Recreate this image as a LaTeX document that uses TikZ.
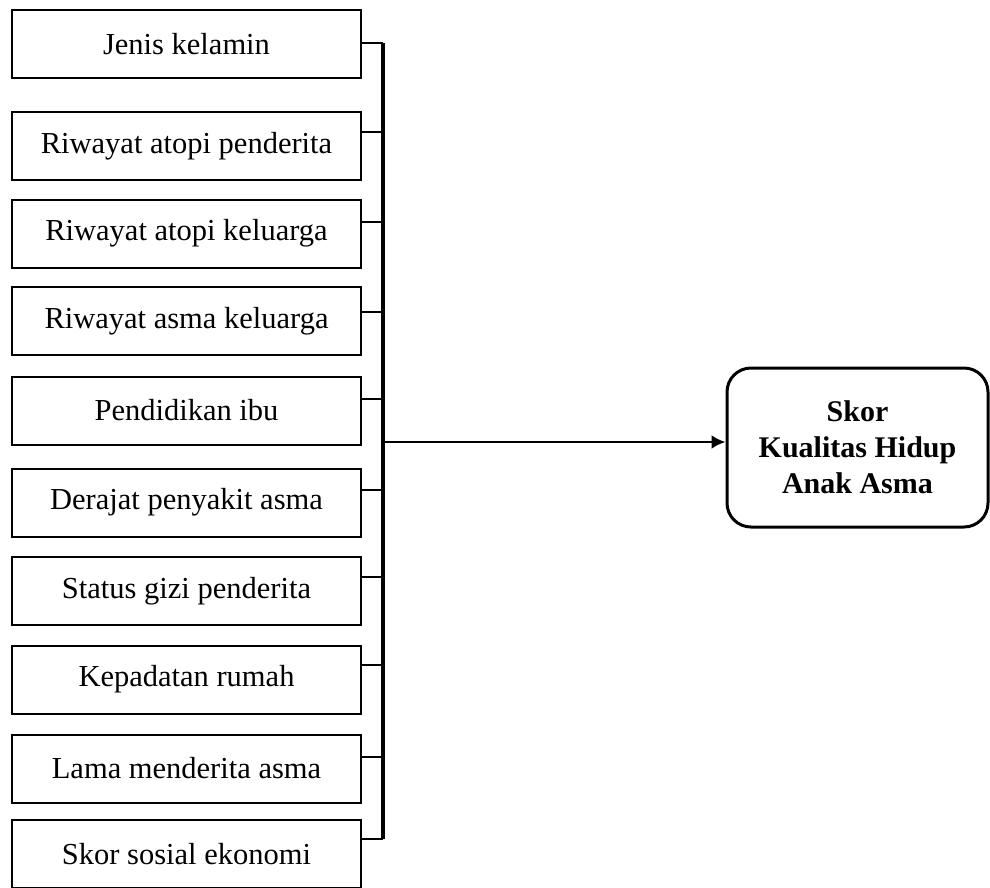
\documentclass[tikz,border=0pt]{standalone}
\usepackage{fontspec}
\setmainfont{Liberation Serif}
\usetikzlibrary{arrows,arrows.meta}
\tikzstyle{factor}=[draw,line width=2pt,minimum width=349pt,minimum height=68pt,inner sep=0pt,font=\fontsize{30.5}{36}\selectfont]
\tikzstyle{outcome}=[draw,line width=3pt,rounded corners=24pt,minimum width=261pt,minimum height=159pt,align=center,font=\fontsize{30}{36}\selectfont\bfseries]
\tikzstyle{link}=[line width=2.6pt]
\tikzstyle{bus}=[line width=3.6pt]
\tikzstyle{orientedarc}=[-{Latex[length=14pt,width=14pt]},line width=2.8pt]

\begin{document}
\begin{tikzpicture}[x=1pt,y=-1pt]

\useasboundingbox (0,0) rectangle (990,887);

\node[factor] (F1) at (186.5,44) {Jenis kelamin};
\node[factor] (F2) at (186.5,146) {Riwayat atopi penderita};
\node[factor] (F3) at (186.5,233.5) {Riwayat atopi keluarga};
\node[factor] (F4) at (186.5,321) {Riwayat asma keluarga};
\node[factor] (F5) at (186.5,410.5) {Pendidikan ibu};
\node[factor] (F6) at (186.5,502.5) {Derajat penyakit asma};
\node[factor] (F7) at (186.5,591) {Status gizi penderita};
\node[factor] (F8) at (186.5,679.5) {Kepadatan rumah};
\node[factor] (F9) at (186.5,768.5) {Lama menderita asma};
\node[factor] (F10) at (186.5,854) {Skor sosial ekonomi};

\node[outcome] (SKOR) at (857.5,447.5) {Skor\\Kualitas Hidup\\Anak Asma};

\coordinate (BUS1) at (383,43);
\coordinate (BUS2) at (383,132);
\coordinate (BUS3) at (383,222);
\coordinate (BUS4) at (383,312);
\coordinate (BUS5) at (383,399);
\coordinate (BUS6) at (383,490);
\coordinate (BUS7) at (383,577);
\coordinate (BUS8) at (383,665);
\coordinate (BUS9) at (383,757);
\coordinate (BUS10) at (383,839);
\coordinate (BUSMID) at (383,442);

\draw[link] (F1.east |- BUS1) -- (BUS1);
\draw[link] (F2.east |- BUS2) -- (BUS2);
\draw[link] (F3.east |- BUS3) -- (BUS3);
\draw[link] (F4.east |- BUS4) -- (BUS4);
\draw[link] (F5.east |- BUS5) -- (BUS5);
\draw[link] (F6.east |- BUS6) -- (BUS6);
\draw[link] (F7.east |- BUS7) -- (BUS7);
\draw[link] (F8.east |- BUS8) -- (BUS8);
\draw[link] (F9.east |- BUS9) -- (BUS9);
\draw[link] (F10.east |- BUS10) -- (BUS10);
\draw[bus] (BUS1) -- (BUS10);
\draw[orientedarc] (BUSMID) -- (SKOR.west |- BUSMID);

\end{tikzpicture}
\end{document}
